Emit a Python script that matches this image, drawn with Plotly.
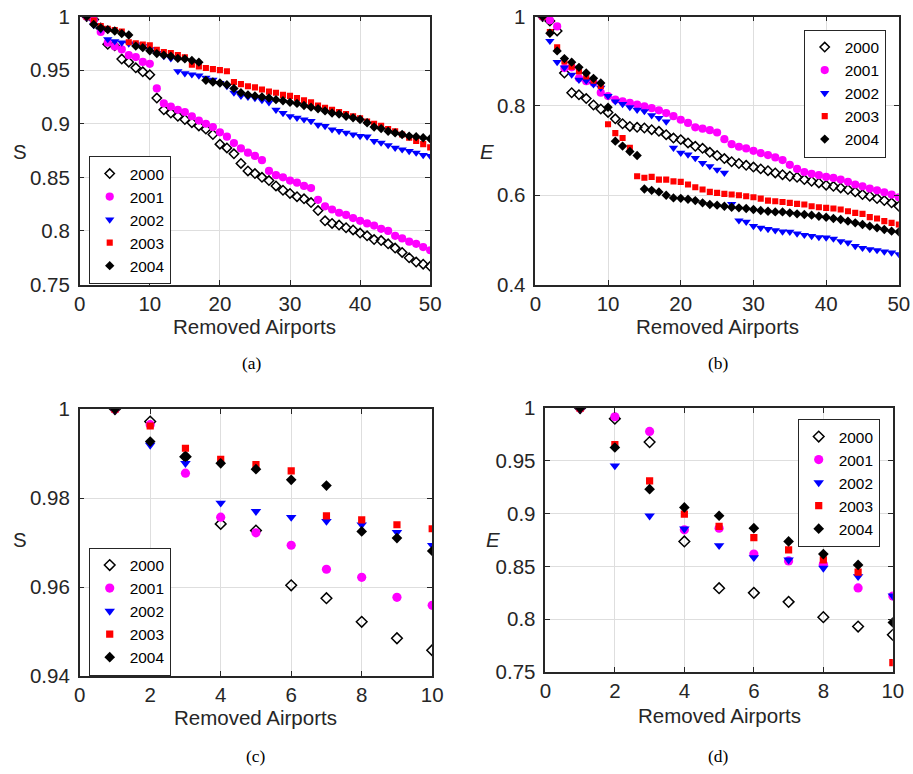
import plotly.graph_objects as go

W, H = 913, 774
# measured mapping of the viewer: shown = O + K * figure_px
KX, OX = 0.98, 5.4
KY, OY = 0.974, 10.4
KF = 0.977  # font compensation

years = ["2000", "2001", "2002", "2003", "2004"]
removed = list(range(1, 51))

# Panel (a): S vs removed airports
S_2000 = [1.0, 0.9972, 0.9893, 0.9742, 0.9727, 0.9604, 0.9575, 0.9522, 0.9485, 0.9458,
          0.924, 0.913, 0.910, 0.907, 0.904, 0.901, 0.898, 0.895, 0.890, 0.881,
          0.8775, 0.872, 0.863, 0.856, 0.8535, 0.850, 0.847, 0.842, 0.838, 0.835,
          0.832, 0.830, 0.8265, 0.819, 0.8095, 0.807, 0.8055, 0.803, 0.801, 0.798,
          0.7955, 0.792, 0.791, 0.788, 0.784, 0.780, 0.775, 0.771, 0.769, 0.767]
S_2001 = [1.0, 0.9965, 0.9856, 0.9757, 0.9722, 0.9694, 0.964, 0.9622, 0.9577, 0.9559,
          0.933, 0.919, 0.916, 0.913, 0.911, 0.907, 0.903, 0.900, 0.897, 0.892,
          0.888, 0.882, 0.877, 0.873, 0.870, 0.866, 0.856, 0.852, 0.850, 0.847,
          0.845, 0.842, 0.840, 0.829, 0.823, 0.820, 0.817, 0.815, 0.812, 0.8095,
          0.807, 0.805, 0.802, 0.800, 0.7955, 0.793, 0.790, 0.788, 0.785, 0.782]
S_2002 = [1.0, 0.9919, 0.9878, 0.9789, 0.977, 0.9757, 0.9748, 0.974, 0.9723, 0.9694,
          0.966, 0.963, 0.961, 0.949, 0.947, 0.946, 0.945, 0.943, 0.941, 0.938,
          0.935, 0.929, 0.926, 0.925, 0.924, 0.922, 0.920, 0.913, 0.910, 0.907,
          0.9055, 0.904, 0.9025, 0.899, 0.8978, 0.8947, 0.8931, 0.8916, 0.890, 0.8885,
          0.888, 0.8838, 0.8823, 0.880, 0.8776, 0.876, 0.8745, 0.873, 0.8708, 0.870]
S_2003 = [1.0, 0.9962, 0.9912, 0.9887, 0.9875, 0.9861, 0.976, 0.9751, 0.974, 0.9731,
          0.969, 0.967, 0.966, 0.964, 0.962, 0.955, 0.9535, 0.952, 0.951, 0.950,
          0.949, 0.939, 0.937, 0.935, 0.934, 0.932, 0.930, 0.929, 0.927, 0.926,
          0.924, 0.922, 0.920, 0.917, 0.915, 0.913, 0.911, 0.909, 0.907, 0.905,
          0.902, 0.900, 0.898, 0.895, 0.893, 0.890, 0.887, 0.884, 0.881, 0.878]
S_2004 = [1.0, 0.9927, 0.9893, 0.9878, 0.9865, 0.9841, 0.9828, 0.9725, 0.971, 0.9681,
          0.9655, 0.964, 0.963, 0.961, 0.9605, 0.959, 0.9575, 0.9405, 0.939, 0.938,
          0.9365, 0.933, 0.929, 0.927, 0.926, 0.925, 0.924, 0.9225, 0.9215, 0.920,
          0.919, 0.917, 0.9155, 0.914, 0.912, 0.910, 0.909, 0.907, 0.9055, 0.904,
          0.901, 0.897, 0.8955, 0.893, 0.8915, 0.890, 0.8885, 0.888, 0.887, 0.886]

# Panel (b): E vs removed airports
E_2000 = [1.0, 0.990, 0.9678, 0.8737, 0.8294, 0.825, 0.8165, 0.802, 0.7931, 0.7853,
          0.771, 0.760, 0.754, 0.752, 0.7505, 0.7467, 0.743, 0.7356, 0.728, 0.7245,
          0.717, 0.7095, 0.705, 0.696, 0.689, 0.682, 0.675, 0.671, 0.667, 0.663,
          0.659, 0.655, 0.650, 0.646, 0.6425, 0.6402, 0.635, 0.6313, 0.6276, 0.6224,
          0.620, 0.6164, 0.6127, 0.6075, 0.6015, 0.5978, 0.5925, 0.588, 0.5829, 0.5754]
E_2001 = [1.0, 0.9918, 0.9779, 0.8847, 0.8863, 0.8617, 0.8553, 0.852, 0.8297, 0.822,
          0.814, 0.810, 0.807, 0.803, 0.799, 0.795, 0.790, 0.784, 0.777, 0.769,
          0.762, 0.752, 0.749, 0.7457, 0.7405, 0.7256, 0.7144, 0.7085, 0.7048, 0.6995,
          0.6943, 0.6898, 0.6846, 0.6786, 0.668, 0.659, 0.652, 0.648, 0.645, 0.641,
          0.6387, 0.635, 0.630, 0.624, 0.620, 0.615, 0.611, 0.6067, 0.6015, 0.5955]
E_2002 = [1.0, 0.9454, 0.898, 0.8857, 0.8699, 0.8585, 0.8563, 0.8484, 0.8405, 0.8222,
          0.810, 0.804, 0.797, 0.791, 0.788, 0.779, 0.773, 0.765, 0.706, 0.695,
          0.691, 0.683, 0.672, 0.665, 0.657, 0.650, 0.580, 0.5434, 0.5405, 0.5308,
          0.527, 0.524, 0.5215, 0.5185, 0.518, 0.514, 0.511, 0.5085, 0.506, 0.505,
          0.5025, 0.497, 0.4938, 0.486, 0.482, 0.479, 0.4768, 0.4738, 0.4716, 0.468]
E_2003 = [1.0, 0.9653, 0.9311, 0.8996, 0.8879, 0.8774, 0.8658, 0.8563, 0.8446, 0.759,
          0.739, 0.728, 0.706, 0.6425, 0.639, 0.641, 0.635, 0.635, 0.631, 0.630,
          0.624, 0.618, 0.6127, 0.6075, 0.6052, 0.603, 0.6015, 0.600, 0.5978, 0.5955,
          0.5925, 0.588, 0.5866, 0.585, 0.5829, 0.5806, 0.5792, 0.5754, 0.5732, 0.5717,
          0.5702, 0.568, 0.5642, 0.5605, 0.5583, 0.551, 0.548, 0.542, 0.5382, 0.5345]
E_2004 = [1.0, 0.9627, 0.9232, 0.9059, 0.898, 0.8863, 0.8737, 0.8617, 0.8515, 0.797,
          0.721, 0.710, 0.698, 0.689, 0.614, 0.611, 0.6075, 0.600, 0.594, 0.593,
          0.591, 0.588, 0.5829, 0.5792, 0.5777, 0.5754, 0.5732, 0.5717, 0.5702, 0.568,
          0.5657, 0.5642, 0.5627, 0.5627, 0.5605, 0.5583, 0.5568, 0.5553, 0.553, 0.5508,
          0.5478, 0.5456, 0.5419, 0.5382, 0.5345, 0.5307, 0.527, 0.5233, 0.5196, 0.518]

S_series = [S_2000, S_2001, S_2002, S_2003, S_2004]
E_series = [E_2000, E_2001, E_2002, E_2003, E_2004]
N_ZOOM = 10  # panels (c) and (d) show the first 10 removals

symbols = ["diamond-open", "circle", "triangle-down", "square", "diamond"]
colors = ["black", "#ff00ff", "#0000ff", "#ff0000", "black"]
size_big = [7, 8, 8, 6, 7]
size_small = [8, 9, 9, 7, 8]

def px(x):
    return ((x - OX) / KX) / W

def py(y):
    return 1 - ((y - OY) / KY) / H

def fs(s):
    return round(s / KF, 1)

fig = go.Figure()

panels = [
    ("", S_series, 50, "legend", size_big),
    ("2", E_series, 50, "legend2", size_big),
    ("3", S_series, N_ZOOM, "legend3", size_small),
    ("4", E_series, N_ZOOM, "legend4", size_small),
]

for suf, data, n, leg, sizes in panels:
    for i, yr in enumerate(years):
        fig.add_trace(go.Scatter(
            x=removed[:n], y=data[i][:n], mode="markers", name=yr,
            xaxis="x" + suf, yaxis="y" + suf, legend=leg,
            marker=dict(symbol=symbols[i], color=colors[i], size=fs(sizes[i]),
                        line=dict(color=colors[i], width=1.5 if i == 0 else 0)),
        ))

AX = "#262626"
GRID = "#dedede"
TF = dict(family="Liberation Sans, Arial, sans-serif", size=fs(20), color=AX)

def axis(dom, rng, dtick, anchor, standoff):
    return dict(domain=dom, range=rng, dtick=dtick, tick0=0, anchor=anchor,
                showline=True, linecolor=AX, linewidth=1.5, mirror="ticks",
                ticks="inside", ticklen=5, tickcolor=AX, tickwidth=1,
                showgrid=True, gridcolor=GRID, gridwidth=1, zeroline=False,
                tickfont=TF, ticklabelstandoff=standoff)

LF = dict(family="Liberation Sans, Arial, sans-serif", size=fs(15), color="#000000")

def legend(x, y):
    return dict(x=px(x), y=py(y), xanchor="left", yanchor="top",
                bgcolor="white", bordercolor=AX, borderwidth=1, font=LF,
                itemwidth=30, tracegroupgap=0)

fig.update_layout(
    width=W, height=H, margin=dict(l=0, r=0, t=0, b=0),
    paper_bgcolor="white", plot_bgcolor="white",
    xaxis=axis([px(79), px(429)], [0, 50], 10, "y", 0),
    yaxis=axis([py(284), py(15)], [0.75, 1], 0.05, "x", 4),
    xaxis2=axis([px(534), px(897)], [0, 50], 10, "y2", 0),
    yaxis2=axis([py(284), py(15)], [0.4, 1], 0.2, "x2", 4),
    xaxis3=axis([px(79), px(431)], [0, 10], 2, "y3", 0),
    yaxis3=axis([py(677), py(409)], [0.94, 1], 0.02, "x3", 4),
    xaxis4=axis([px(544), px(891)], [0, 10], 2, "y4", 0),
    yaxis4=axis([py(673), py(408)], [0.75, 1], 0.05, "x4", 4),
    legend=legend(88, 155),
    legend2=legend(802, 28),
    legend3=legend(88, 548),
    legend4=legend(796, 419),
)

ann = []
def text(x, y, t, size=20, family="Liberation Sans, Arial, sans-serif", color=AX):
    ann.append(dict(x=px(x), y=py(y), xref="paper", yref="paper", text=t,
                    showarrow=False, xanchor="center", yanchor="middle",
                    font=dict(family=family, size=fs(size), color=color)))

text(254, 326, "Removed Airports")
text(716, 326, "Removed Airports")
text(255, 719, "Removed Airports")
text(718, 717, "Removed Airports")
text(19, 150, "S")
text(486, 150, "<i>E</i>")
text(19, 540, "S")
text(492, 540, "<i>E</i>")
SER = "Liberation Serif, Times New Roman, serif"
text(251, 363, "(a)", 17, SER, "black")
text(716, 363, "(b)", 17, SER, "black")
text(255, 757, "(c)", 17, SER, "black")
text(716, 757, "(d)", 17, SER, "black")

fig.update_layout(annotations=ann)
fig.write_html("out.html")
